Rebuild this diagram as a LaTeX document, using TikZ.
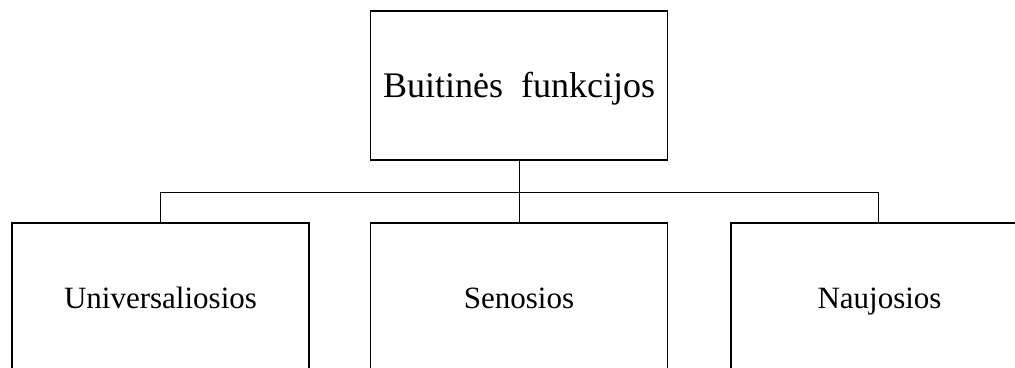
\documentclass[tikz,border=0pt]{standalone}
\usepackage{fontspec}
\setmainfont{Liberation Serif}
\begin{document}
\begin{tikzpicture}[x=1pt,y=-1pt,
  box/.style={draw=black, line width=1.3pt, minimum width=297pt, minimum height=149pt,
    inner sep=0pt, text depth=0pt, anchor=center},
  wire/.style={draw=black, line width=1pt}]
\useasboundingbox (0,0) rectangle (1015,367);
\clip (0,0) rectangle (1015,367);
\fill[white] (0,0) rectangle (1015,367);
\node[box, text height=24pt, font=\fontsize{36}{40}\selectfont] (top) at (519,85.5) {Buitinės\ \ funkcijos};
\node[box, text height=21pt, font=\fontsize{31}{36}\selectfont] (left) at (160.5,297.5) {Universaliosios};
\node[box, text height=21pt, font=\fontsize{31}{36}\selectfont] (mid) at (519,297.5) {Senosios};
\node[box, text height=21pt, font=\fontsize{31}{36}\selectfont] (right) at (879.5,297.5) {Naujosios};
\coordinate (j) at (519,192);
\coordinate (lj) at (160,192);
\coordinate (rj) at (878,192);
\draw[wire] (top.south) -- (j);
\draw[wire] (j) -- (mid.north);
\draw[wire] (lj) -- (rj);
\draw[wire] (lj) -- (lj |- left.north);
\draw[wire] (rj) -- (rj |- right.north);
\end{tikzpicture}
\end{document}
